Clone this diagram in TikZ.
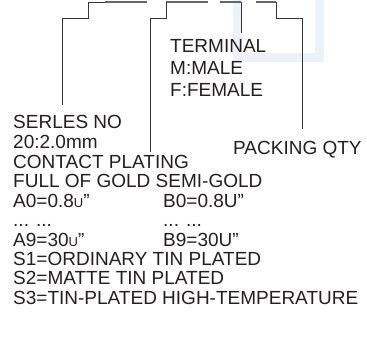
\documentclass[tikz,border=0pt]{standalone}
\usepackage{fontspec}
\setmainfont{Liberation Sans}
\usetikzlibrary{positioning}
\definecolor{inkgray}{RGB}{35,31,32}
\definecolor{wmblue}{RGB}{236,241,250}
\newcommand{\smallu}{{\fontsize{13}{13}\selectfont U}}
\tikzset{
  lbl/.style={inner sep=0pt, align=left, text=inkgray, font=\fontsize{19}{19.45}\selectfont},
  leader/.style={draw=inkgray!90, line width=0.9pt},
  barline/.style={draw=black!60, line width=2pt},
  wmark/.style={draw=wmblue, line width=9pt},
}

\begin{document}
\begin{tikzpicture}[x=1pt, y=-1pt]
\useasboundingbox (0,0) rectangle (367,344);

% watermark
\draw[wmark] (237.5,0) |- (319,58) -- (319,0);

% part number bars
\foreach \a/\b [count=\i] in {105/147, 166/208, 220/241, 256/276} {
  \coordinate (bar\i a) at (\a,2.5);
  \coordinate (bar\i b) at (\b,2.5);
  \draw[barline] (bar\i a) -- (bar\i b);
}

% labels
\node[lbl, font=\fontsize{19}{22}\selectfont, anchor=north west] (terminal) at (170,39) {TERMINAL\\M:MALE\\F:FEMALE};
\node[lbl, anchor=north west] (serial) at (13,115.5) {SERLES NO\\20:2.0mm};
\node[lbl, below=6pt of serial.south west, anchor=north west] (plating) {CONTACT PLATING\\
FULL OF GOLD SEMI-GOLD\\
\makebox[150pt][l]{A0=0.8\smallu”}B0=0.8U”\\
\makebox[150pt][l]{... ...}... ...\\
\makebox[150pt][l]{A9=30\smallu”}B9=30U”\\
S1=ORDINARY TIN PLATED\\
S2=MATTE TIN PLATED\\
S3=TIN-PLATED HIGH-TEMPERATURE};
\node[lbl, anchor=north west] (packing) at (233,141) {PACKING QTY};

% leaders
\coordinate (jog1) at (62,18);
\coordinate (jog2) at (150,18);
\coordinate (jog4) at (302,18);
\draw[leader, shorten >=10pt] (bar1a) -- ++(-17,0) |- (jog1) -- (jog1 |- serial.north);
\draw[leader, shorten >=3pt] (bar2a) |- (jog2) -- (jog2 |- plating.north);
\draw[leader, shorten >=6pt] (bar3b) -- (bar3b |- terminal.north);
\draw[leader, shorten >=12pt] (bar4b) |- (jog4) -- (jog4 |- packing.north);

\end{tikzpicture}
\end{document}
